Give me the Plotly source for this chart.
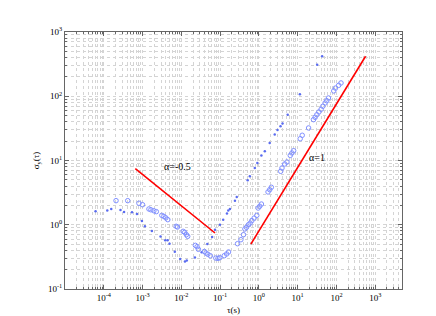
import plotly.graph_objects as go

# Large hollow circles series
big_tau = [2.07e-4, 4.14e-4, 8.07e-4, 1.0e-3, 1.46e-3, 1.64e-3, 1.96e-3, 2.26e-3,
           3.14e-3, 3.54e-3, 3.98e-3, 4.48e-3, 7.36e-3, 7.94e-3, 1.11e-2, 1.22e-2,
           1.35e-2, 1.46e-2, 2.30e-2, 2.55e-2, 2.75e-2, 3.92e-2, 4.33e-2, 4.82e-2,
           5.59e-2, 7.74e-2, 8.81e-2, 9.8e-2, 0.128, 0.147, 0.165, 0.281, 0.343,
           0.40, 0.435, 0.478, 0.537, 0.594, 0.657, 0.753, 0.883, 0.955, 1.05, 1.16,
           1.72, 1.90, 2.09, 3.65, 3.94, 4.62, 5.29, 6.44, 7.11, 7.87, 11.6, 13.1,
           19.1, 25.6, 28.2, 31.2, 35.1, 40.2, 44.5, 50.9, 56.3, 62.2, 85.1, 94.2,
           114, 131]
big_sigma = [2.37, 2.37, 2.16, 2.05, 1.76, 1.71, 1.65, 1.60,
             1.40, 1.35, 1.28, 1.20, 0.946, 0.923, 0.79, 0.762,
             0.70, 0.66, 0.478, 0.455, 0.415, 0.384, 0.363, 0.347,
             0.329, 0.303, 0.300, 0.307, 0.33, 0.351, 0.377, 0.507, 0.585,
             0.70, 0.859, 0.912, 1.0, 1.06, 1.16, 1.27, 1.40, 1.82, 1.94, 2.10,
             3.24, 3.51, 3.83, 6.79, 7.64, 8.82, 9.48, 12.0, 13.1, 14.2, 21.8, 24.7,
             32.1, 43.2, 47.0, 51.6, 56.9, 62.7, 69.8, 78.6, 85.3, 94.0, 121, 134,
             148, 161]

# Small dots series
small_tau = [6.14e-5, 1.23e-4, 1.56e-4, 2.70e-4, 3.33e-4, 5.34e-4, 7.17e-4, 9.64e-4,
             1.15e-3, 1.74e-3, 2.91e-3, 3.84e-3, 4.41e-3, 4.96e-3, 6.78e-3, 9.33e-3,
             1.24e-2, 1.38e-2, 2.24e-2, 3.34e-2, 4.68e-2, 6.22e-2, 7.38e-2, 9.9e-2,
             0.12, 0.15, 0.162, 0.179, 0.241, 0.268, 0.513, 0.584, 0.785, 0.914,
             1.16, 1.42, 1.90, 2.56, 3.02, 3.61, 4.06, 5.52, 11.4, 31.8, 42.7]
small_sigma = [1.62, 1.67, 1.76, 1.70, 1.58, 1.56, 1.47, 1.14,
               0.946, 0.80, 0.656, 0.573, 0.573, 0.507, 0.381, 0.293,
               0.268, 0.278, 0.309, 0.373, 0.501, 0.644, 0.837, 1.0,
               1.20, 1.50, 1.67, 1.76, 2.37, 2.70, 4.92, 5.68, 7.64, 9.14,
               12.0, 13.9, 18.7, 25.5, 29.9, 34.0, 37.6, 51.6, 107, 310, 419]

# Reference slope lines
line1_tau = [6.5e-4, 7.38e-2]
line1_sigma = [7.45, 0.744]
line2_tau = [0.62, 563]
line2_sigma = [0.5, 419]

x_tickvals = [1e-4, 1e-3, 1e-2, 1e-1, 1, 10, 100, 1000]
x_ticktext = ["10<sup>-4</sup>", "10<sup>-3</sup>", "10<sup>-2</sup>", "10<sup>-1</sup>",
              "10<sup>0</sup>", "10<sup>1</sup>", "10<sup>2</sup>", "10<sup>3</sup>"]
y_tickvals = [0.1, 1, 10, 100, 1000]
y_ticktext = ["10<sup>-1</sup>", "10<sup>0</sup>", "10<sup>1</sup>", "10<sup>2</sup>", "10<sup>3</sup>"]

SERIF = "Liberation Serif, Times New Roman, serif"


def minor_vals(lo_exp, hi_exp):
    out = []
    for d in range(lo_exp, hi_exp + 1):
        for k in range(2, 10):
            out.append(k * 10.0 ** d)
    return out


fig = go.Figure()
fig.add_trace(go.Scatter(x=small_tau, y=small_sigma, mode="markers",
                         marker=dict(symbol="circle", size=2.5, color="#5a6cf0",
                                     line=dict(width=0))))
fig.add_trace(go.Scatter(x=big_tau, y=big_sigma, mode="markers",
                         marker=dict(symbol="circle-open", size=4.5, color="#8090ff",
                                     line=dict(width=1, color="#8090ff"))))
fig.add_trace(go.Scatter(x=line1_tau, y=line1_sigma, mode="lines",
                         line=dict(color="#ff0000", width=1.6)))
fig.add_trace(go.Scatter(x=line2_tau, y=line2_sigma, mode="lines",
                         line=dict(color="#ff0000", width=1.6)))

fig.add_annotation(x=-2.087, y=0.914, xref="x", yref="y", text="α=-0.5",
                   showarrow=False, font=dict(family=SERIF, size=10, color="#000"))
fig.add_annotation(x=1.494, y=1.044, xref="x", yref="y", text="α=1",
                   showarrow=False, font=dict(family=SERIF, size=10, color="#000"))

grid_col = "#d4d4d4"


def axis_common(minor_list):
    return dict(
        type="log", showline=True, linecolor="#666", linewidth=1, mirror="ticks",
        ticks="inside", ticklen=4, tickcolor="#666",
        showgrid=True, gridcolor=grid_col, griddash="dot", gridwidth=1,
        zeroline=False,
        minor=dict(tickmode="array", tickvals=minor_list, ticks="inside", ticklen=2,
                   tickcolor="#666", showgrid=True,
                   gridcolor=grid_col, griddash="dot", gridwidth=1),
        tickfont=dict(family=SERIF, size=9, color="#000"),
    )


fig.update_xaxes(range=[-5, 3.69], tickmode="array", tickvals=x_tickvals, ticktext=x_ticktext,
                 title=dict(text="τ(s)", font=dict(family=SERIF, size=9, color="#000"),
                            standoff=4),
                 **axis_common(minor_vals(-5, 3)))
fig.update_yaxes(range=[-1, 3], tickmode="array", tickvals=y_tickvals, ticktext=y_ticktext,
                 title=dict(text="σ<sub>y</sub>(τ)", font=dict(family=SERIF, size=9, color="#000"),
                            standoff=6),
                 **axis_common(minor_vals(-1, 2)))

fig.update_layout(width=436, height=316, showlegend=False,
                  margin=dict(l=57, r=42, t=24, b=35),
                  plot_bgcolor="#ffffff", paper_bgcolor="#ffffff")

fig.write_html("out.html")
